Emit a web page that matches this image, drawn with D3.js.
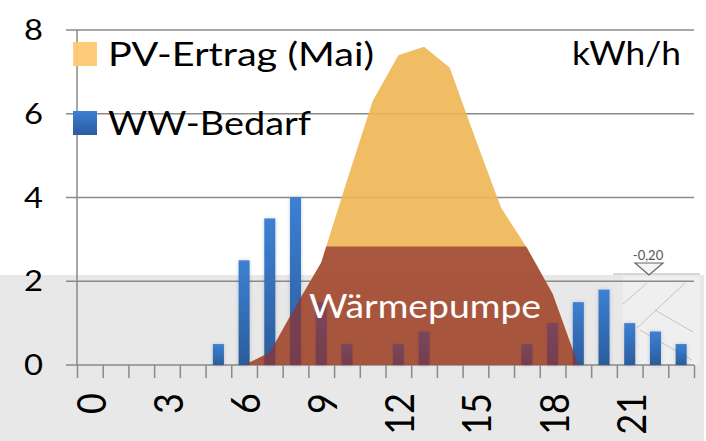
<!DOCTYPE html>
<html>
<head>
<meta charset="utf-8">
<script src="https://cdn.jsdelivr.net/npm/d3@7"></script>
<style>
  body { margin: 0; background: #fff; }
  svg { display: block; font-family: Lato, "Open Sans", sans-serif; }
</style>
</head>
<body>
<div id="chart"></div>
<script>
// Données
const hours = d3.range(24);
const pvErtrag = [0, 0, 0, 0, 0, 0, 0, 0.3, 1.4, 2.45, 4.4, 6.3, 7.4, 7.6, 7.1, 5.4, 3.75, 2.8, 1.7, 0, 0, 0, 0, 0];
const wwBedarf = [0, 0, 0, 0, 0, 0.5, 2.5, 3.5, 4.0, 1.5, 0.5, 0, 0.5, 0.8, 0, 0, 0, 0.5, 1.0, 1.5, 1.8, 1.0, 0.8, 0.5];
const wpLeistung = 2.83;
const yTicks = [0, 2, 4, 6, 8];
const xLabels = [0, 3, 6, 9, 12, 15, 18, 21];

const W = 706, H = 441;
const plotLeft = 77, plotRight = 694, plotTop = 30, plotBottom = 365;

const svg = d3.select("#chart").append("svg")
  .attr("width", W).attr("height", H);

const defs = svg.append("defs");
const grad = defs.append("linearGradient").attr("id", "barGrad")
  .attr("x1", 0).attr("x2", 0).attr("y1", 0).attr("y2", 1);
grad.append("stop").attr("offset", "0%").attr("stop-color", "#3c80d4");
grad.append("stop").attr("offset", "100%").attr("stop-color", "#2b5c9c");

const shadow = defs.append("filter").attr("id", "shadow")
  .attr("x", "-60%").attr("y", "-10%").attr("width", "220%").attr("height", "120%");
shadow.append("feGaussianBlur").attr("in", "SourceAlpha").attr("stdDeviation", 2).attr("result", "b");
shadow.append("feComponentTransfer").attr("in", "b").attr("result", "s")
  .append("feFuncA").attr("type", "linear").attr("slope", 0.18);
const merge = shadow.append("feMerge");
merge.append("feMergeNode").attr("in", "s");
merge.append("feMergeNode").attr("in", "SourceGraphic");

// Échelles
const x = d3.scaleBand().domain(hours).range([plotLeft, plotRight]).padding(0);
const xLin = d3.scaleLinear().domain([0, 24]).range([plotLeft, plotRight]);
const y = d3.scaleLinear().domain([0, 8]).range([plotBottom, plotTop]);
const cx = h => x(h) + x.bandwidth() / 2;

// Fond gris (image derrière le graphique)
svg.append("rect").attr("x", 0).attr("y", 275).attr("width", 704).attr("height", H - 275)
  .attr("fill", "#e8e8e8");
svg.append("rect").attr("x", 623).attr("y", 276).attr("width", 77).attr("height", 89)
  .attr("fill", "#efefef");
const deco = svg.append("g").attr("stroke", "#c4c4c4").attr("stroke-width", 1).attr("fill", "none");
deco.append("line").attr("x1", 613).attr("y1", 274).attr("x2", 700).attr("y2", 274).attr("stroke", "#b0b0b0");
[[623, 304, 647, 283], [637, 328, 685, 283], [655, 310, 693, 332], [640, 330, 692, 360]].forEach(l => {
  deco.append("line").attr("x1", l[0]).attr("y1", l[1]).attr("x2", l[2]).attr("y2", l[3]);
});
svg.append("path").attr("d", "M635,263 L663,263 L649,275 Z")
  .attr("fill", "#f4f4f4").attr("stroke", "#666").attr("stroke-width", 1.2);
svg.append("text").attr("x", 648).attr("y", 260).attr("text-anchor", "middle")
  .attr("font-size", 13).attr("fill", "#555").text("-0,20");

// Grille horizontale
svg.append("g").selectAll("line").data(yTicks).join("line")
  .attr("x1", 66).attr("x2", plotRight)
  .attr("y1", d => y(d)).attr("y2", d => y(d))
  .attr("stroke", "#8a8a8a").attr("stroke-width", 1.5);

// Aire PV-Ertrag
const area = d3.area()
  .x((d, i) => cx(hours[i]))
  .y0(y(0))
  .y1(d => y(d));
svg.append("path").datum(pvErtrag)
  .attr("d", area)
  .attr("fill", "#eeb553").attr("fill-opacity", 0.9);

// Barres WW-Bedarf
const bars = hours.map((h, i) => ({ hour: h, value: wwBedarf[i] })).filter(d => d.value > 0);
svg.append("g").selectAll("rect").data(bars).join("rect")
  .attr("x", d => x(d.hour) + x.bandwidth() * 0.285)
  .attr("width", x.bandwidth() * 0.43)
  .attr("y", d => y(d.value))
  .attr("height", d => y(0) - y(d.value))
  .attr("fill", "url(#barGrad)")
  .attr("filter", "url(#shadow)");

// Wärmepumpe = PV plafonné à la puissance de la PAC
defs.append("clipPath").attr("id", "wpClip")
  .append("rect").attr("x", plotLeft).attr("width", plotRight - plotLeft)
  .attr("y", y(wpLeistung)).attr("height", y(0) - y(wpLeistung));
svg.append("path").datum(pvErtrag)
  .attr("d", area)
  .attr("clip-path", "url(#wpClip)")
  .attr("fill", "rgb(144,51,49)").attr("fill-opacity", 0.745);

svg.append("text").attr("x", 309).attr("y", 318)
  .attr("font-size", 32).attr("fill", "#fff")
  .attr("textLength", 232).attr("lengthAdjust", "spacingAndGlyphs")
  .text("Wärmepumpe");

// Axes
svg.append("line").attr("x1", plotLeft).attr("x2", plotLeft).attr("y1", plotTop).attr("y2", plotBottom)
  .attr("stroke", "#8a8a8a").attr("stroke-width", 1.5);
const xAxis = svg.append("g").attr("transform", `translate(0,${plotBottom})`)
  .call(d3.axisBottom(xLin).tickValues(d3.range(25)).tickSize(13).tickFormat(""));
xAxis.select(".domain").remove();
xAxis.selectAll("line").attr("stroke", "#8a8a8a").attr("stroke-width", 1.5);

svg.append("g").selectAll("text").data(yTicks).join("text")
  .attr("x", 43).attr("y", d => y(d) + 10)
  .attr("text-anchor", "end")
  .attr("font-size", 28).attr("fill", "#000")
  .attr("textLength", 19).attr("lengthAdjust", "spacingAndGlyphs")
  .text(d => d);

svg.append("g").selectAll("text").data(xLabels).join("text")
  .attr("transform", d => `translate(${cx(d) + 1},393) scale(1.15,1) rotate(-90)`)
  .attr("text-anchor", "end")
  .attr("dy", "0.36em")
  .attr("font-size", 36).attr("fill", "#000")
  .text(d => d);

// Légende
svg.append("rect").attr("x", 73).attr("y", 42).attr("width", 24).attr("height", 24)
  .attr("fill", "#ffc870").attr("fill-opacity", 0.92);
svg.append("rect").attr("x", 73).attr("y", 111).attr("width", 24).attr("height", 24)
  .attr("fill", "url(#barGrad)");
svg.append("text").attr("x", 108).attr("y", 66)
  .attr("font-size", 33.5).attr("fill", "#000")
  .attr("textLength", 266).attr("lengthAdjust", "spacingAndGlyphs")
  .text("PV-Ertrag (Mai)");
svg.append("text").attr("x", 108).attr("y", 135)
  .attr("font-size", 33.5).attr("fill", "#000")
  .attr("textLength", 203).attr("lengthAdjust", "spacingAndGlyphs")
  .text("WW-Bedarf");
svg.append("text").attr("x", 572).attr("y", 65)
  .attr("font-size", 33.5).attr("fill", "#000")
  .attr("textLength", 109).attr("lengthAdjust", "spacingAndGlyphs")
  .text("kWh/h");
</script>
</body>
</html>
